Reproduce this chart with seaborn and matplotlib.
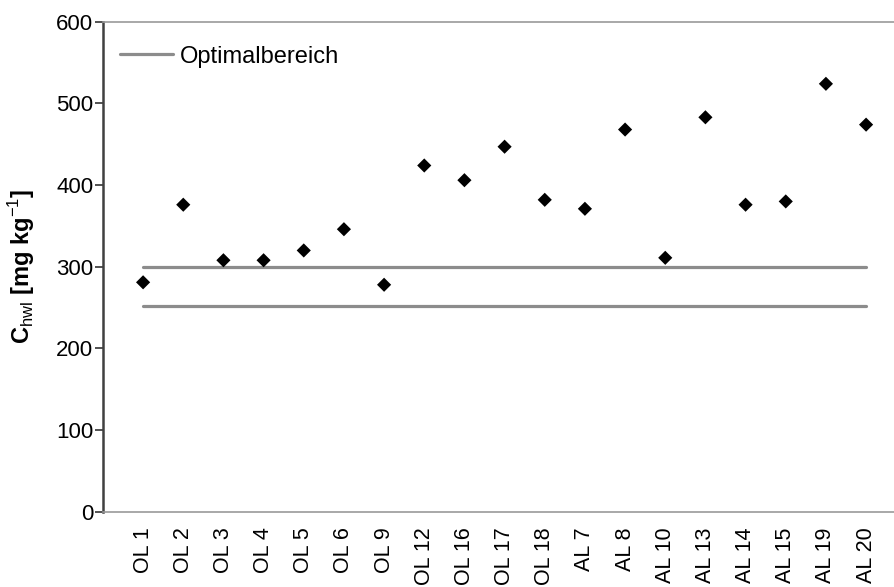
import matplotlib
matplotlib.use('Agg')
import matplotlib.pyplot as plt
import seaborn as sns
import pandas as pd

# =====================================
# DATA
# =====================================

sites = [
    'OL 1', 'OL 2', 'OL 3', 'OL 4', 'OL 5', 'OL 6', 'OL 9',
    'OL 12', 'OL 16', 'OL 17', 'OL 18',
    'AL 7', 'AL 8', 'AL 10', 'AL 13', 'AL 14', 'AL 15', 'AL 19', 'AL 20'
]

c_hwl = [
    281, 376, 308, 308, 320, 346, 278,
    424, 406, 447, 382,
    371, 468, 311, 483, 376, 380, 524, 474
]

opt_low = 252
opt_high = 300

df = pd.DataFrame({'Site': sites, 'C_hwl': c_hwl})
df['Opt_high'] = opt_high
df['Opt_low'] = opt_low

# =====================================
# STYLE
# =====================================

sns.set_style('white')
plt.rcParams['font.family'] = ['Liberation Sans', 'DejaVu Sans']
plt.rcParams['mathtext.fontset'] = 'custom'
plt.rcParams['mathtext.rm'] = 'Liberation Sans'
plt.rcParams['mathtext.bf'] = 'Liberation Sans:bold'
plt.rcParams['text.color'] = 'black'
plt.rcParams['axes.labelcolor'] = 'black'
plt.rcParams['xtick.color'] = 'black'
plt.rcParams['ytick.color'] = 'black'

# =====================================
# PLOT
# =====================================

fig = plt.figure(figsize=(8.95, 5.87), dpi=100)
ax = fig.add_axes([0.115, 0.128, 0.885, 0.835])

sns.scatterplot(
    data=df,
    x='Site',
    y='C_hwl',
    marker='D',
    s=52,
    color='black',
    edgecolor='none',
    ax=ax,
    zorder=3
)

sns.lineplot(
    data=df,
    x='Site',
    y='Opt_high',
    color='#8c8c8c',
    linewidth=2.3,
    label='Optimalbereich',
    ax=ax,
    zorder=2
)

sns.lineplot(
    data=df,
    x='Site',
    y='Opt_low',
    color='#8c8c8c',
    linewidth=2.3,
    ax=ax,
    zorder=2
)

ax.set_xlim(-1.0, len(sites) - 0.28)
ax.set_ylim(0, 600)
ax.set_yticks(range(0, 601, 100))

ax.set_xlabel('')
ax.set_ylabel(
    r'C$_{\mathrm{hwl}}$ [mg kg$^{\mathrm{-1}}$]',
    fontsize=17,
    fontweight='bold',
    labelpad=14
)

ax.tick_params(axis='y', direction='out', length=6, width=1.2,
               color='#333333', labelsize=16, pad=1, left=True)
ax.tick_params(axis='x', length=0, labelsize=15.5, pad=11)
plt.setp(ax.get_xticklabels(), rotation=90, va='top', ha='center')

ax.spines['left'].set_color('#404040')
ax.spines['left'].set_linewidth(1.8)
ax.spines['bottom'].set_color('#999999')
ax.spines['bottom'].set_linewidth(1.2)
ax.spines['top'].set_color('#999999')
ax.spines['top'].set_linewidth(1.2)
ax.spines['right'].set_visible(False)

ax.legend(
    loc='center left',
    bbox_to_anchor=(0.0215, 0.9286),
    frameon=False,
    fontsize=17,
    handlelength=2.25,
    handletextpad=0.3,
    borderpad=0,
    borderaxespad=0
)

fig.savefig('out.png', dpi=100)
